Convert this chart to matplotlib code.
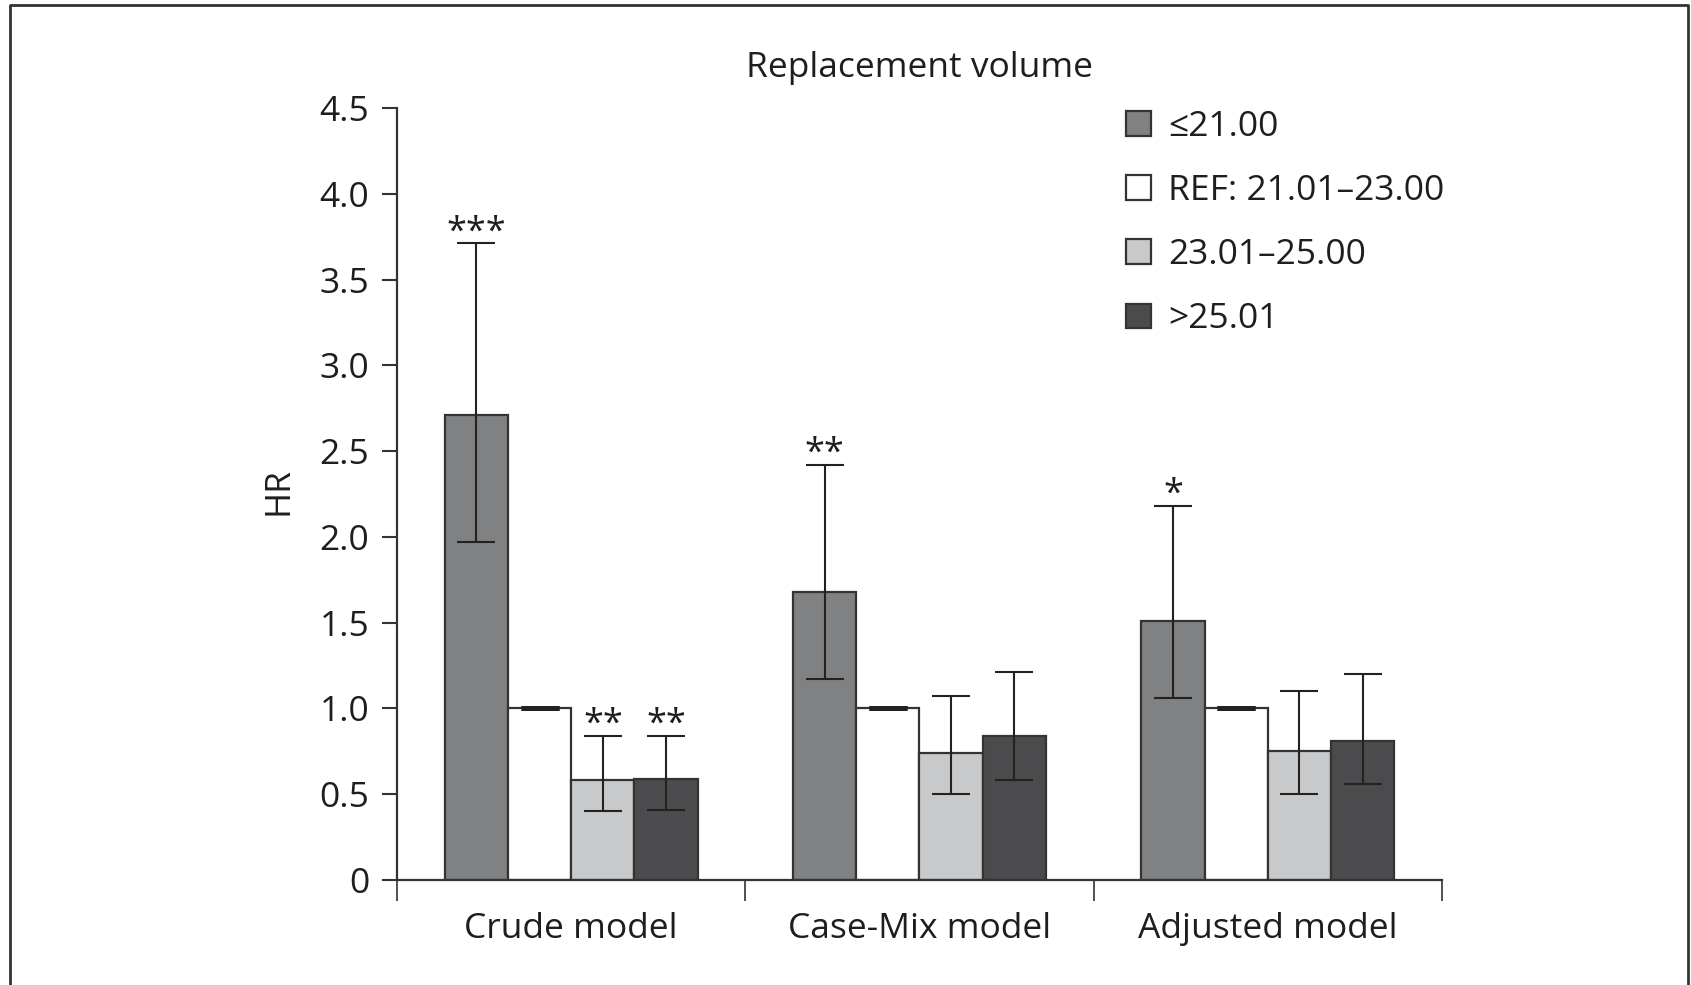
import numpy as np
import matplotlib
matplotlib.use("Agg")
import matplotlib.pyplot as plt
from matplotlib.lines import Line2D

plt.rcParams['font.family'] = ['Open Sans', 'DejaVu Sans']

# HR per model and replacement volume class, with 95% CI limits
models = ["Crude model", "Case-Mix model", "Adjusted model"]
classes = ["≤21.00", "REF: 21.01–23.00", "23.01–25.00", ">25.01"]

hr_le21 = [2.71, 1.68, 1.51]
hr_ref = [1.00, 1.00, 1.00]
hr_23_25 = [0.58, 0.74, 0.75]
hr_gt25 = [0.59, 0.84, 0.81]

lo_le21 = [1.97, 1.17, 1.06]
hi_le21 = [3.71, 2.42, 2.18]
lo_ref = [1.00, 1.00, 1.00]
hi_ref = [1.00, 1.00, 1.00]
lo_23_25 = [0.40, 0.50, 0.50]
hi_23_25 = [0.84, 1.07, 1.10]
lo_gt25 = [0.41, 0.58, 0.56]
hi_gt25 = [0.84, 1.21, 1.20]

stars_le21 = ["***", "**", "*"]
stars_23_25 = ["**", "", ""]
stars_gt25 = ["**", "", ""]

colors = ["#808183", "#ffffff", "#c8c9cb", "#4b4b4d"]
edge = "#333333"
txt = "#1e1e1e"
fs = 25.5

series = [
    (hr_le21, lo_le21, hi_le21, stars_le21),
    (hr_ref, lo_ref, hi_ref, ["", "", ""]),
    (hr_23_25, lo_23_25, hi_23_25, stars_23_25),
    (hr_gt25, lo_gt25, hi_gt25, stars_gt25),
]

fig = plt.figure(figsize=(16.91, 9.85), dpi=100)
ax = fig.add_axes([0.2348, 0.1066, 0.6179, 0.7838])

centers = np.arange(len(models)) + 0.5
w = 0.1815
for i, (hr, lo, hi, st) in enumerate(series):
    x = centers + (i - 1.5) * w
    hr = np.array(hr)
    err = np.vstack([hr - np.array(lo), np.array(hi) - hr])
    ax.bar(x, hr, width=w, color=colors[i], edgecolor=edge, linewidth=1.6,
           label=classes[i], zorder=2)
    # reference class has no interval, only a thick cap on the bar top
    ct = 3.5 if not err.any() else 1.5
    ax.errorbar(x, hr, yerr=err, fmt='none', ecolor="#222222", elinewidth=1.5,
                capsize=14, capthick=ct, zorder=3)
    for xi, top, s in zip(x, hi, st):
        if s:
            ax.annotate(s, (xi, top), xytext=(0, 1.5), textcoords='offset points',
                        ha='center', va='baseline', fontsize=26, color=txt)

ax.set_xlim(0, 3)
ax.set_ylim(0, 4.5)
yt = np.arange(0, 4.51, 0.5)
ax.set_yticks(yt)
ax.set_yticklabels(["0"] + [f"{v:.1f}" for v in yt[1:]])
ax.tick_params(axis='y', length=11, width=1.5, pad=9, labelsize=fs,
               labelcolor=txt, color="#333333")
ax.set_xticks([0, 1, 2, 3])
ax.set_xticklabels([])
ax.tick_params(axis='x', length=15, width=1.2, color="#333333")
for c, m in zip(centers, models):
    ax.text(c, -0.0636, m, transform=ax.get_xaxis_transform(), ha='center',
            va='center', fontsize=fs, color=txt)

for side in ['top', 'right']:
    ax.spines[side].set_visible(False)
for side in ['left', 'bottom']:
    ax.spines[side].set_linewidth(1.6)
    ax.spines[side].set_color("#333333")

fig.text(0.5437, 1 - 68 / 985, "Replacement volume", ha='center', va='center',
         fontsize=fs, color=txt)
fig.text(0.1644, 0.5015, "HR", rotation=90, ha='center', va='center',
         fontsize=fs, color=txt)

ax.legend(loc='upper left', bbox_to_anchor=(1126 / 1691, 1 - 110 / 985),
          bbox_transform=fig.transFigure, frameon=False, fontsize=fs,
          handlelength=0.7, handleheight=0.7, handletextpad=0.5,
          labelspacing=0.85, borderpad=0, borderaxespad=0, labelcolor=txt)

# outer frame, open at the bottom
fig.add_artist(Line2D([10 / 1691, 10 / 1691, 1688 / 1691, 1688 / 1691],
                      [0, 1 - 5 / 985, 1 - 5 / 985, 0],
                      transform=fig.transFigure, color="#333333", lw=2))

fig.savefig("out.png", dpi=100)
